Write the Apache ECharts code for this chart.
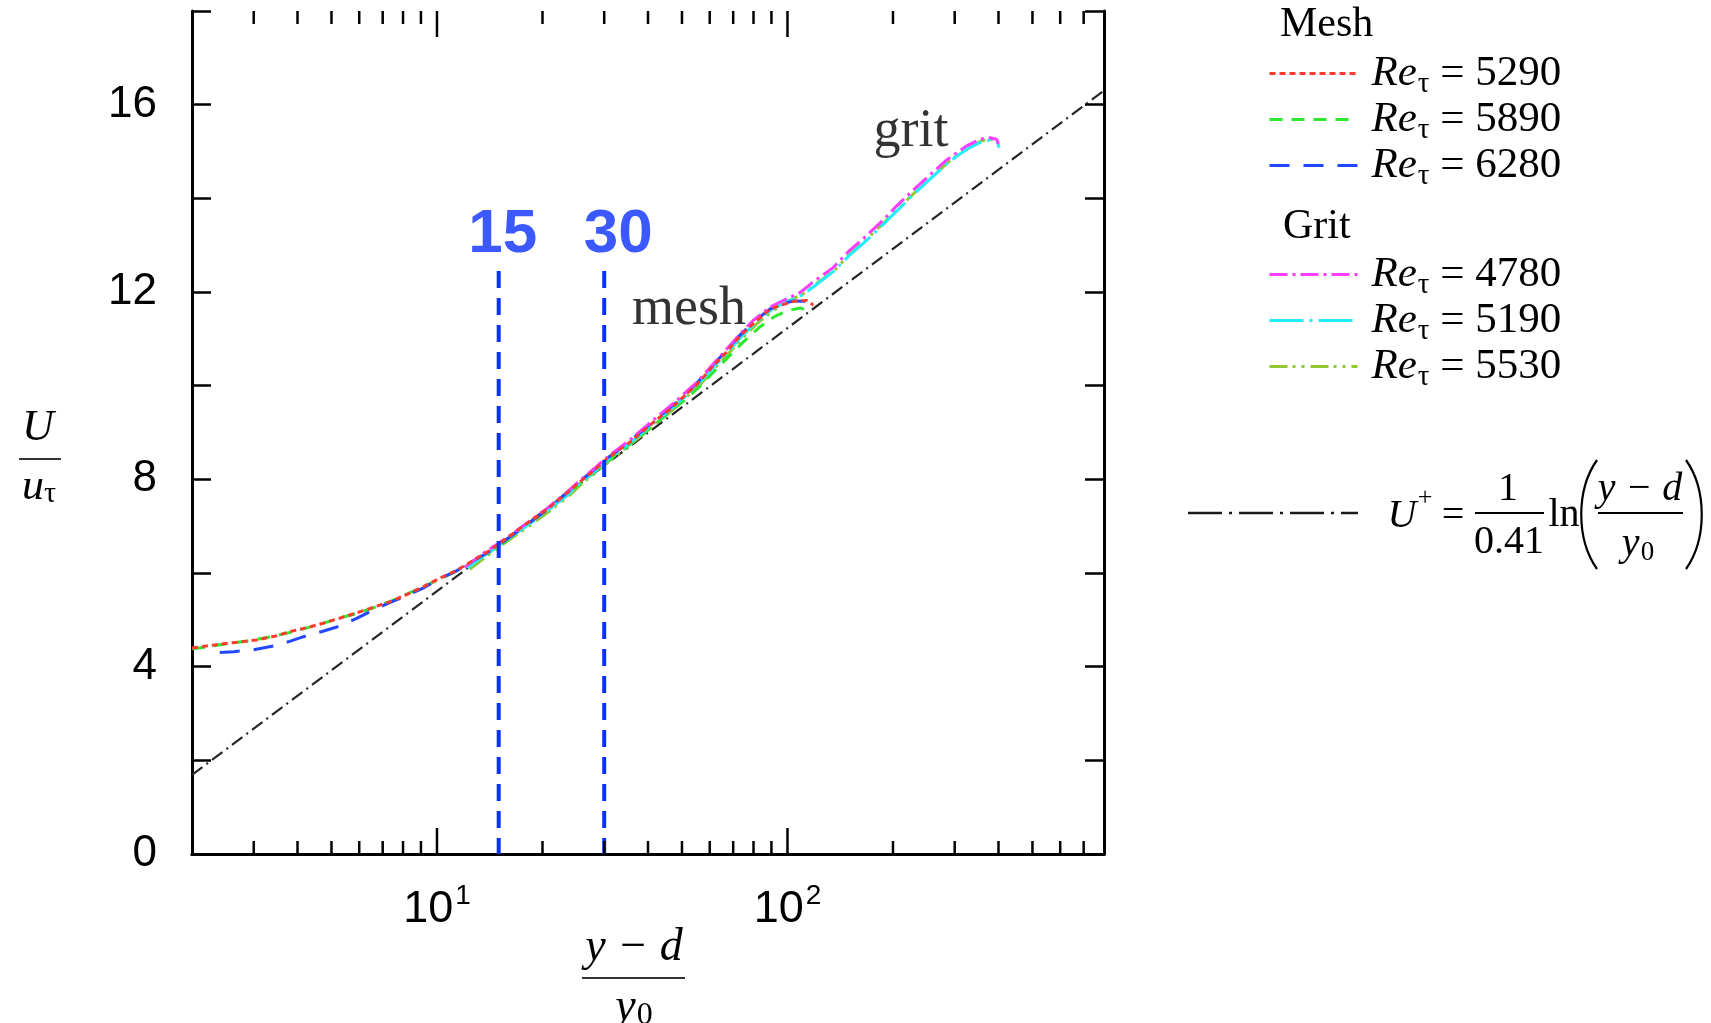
<!DOCTYPE html>
<html>
<head>
<meta charset="utf-8">
<title>Mean velocity profiles, mesh and grit roughness</title>
<script src="https://cdn.jsdelivr.net/npm/echarts@6/dist/echarts.min.js"></script>
<style>
  html, body { margin: 0; padding: 0; background: #ffffff; }
  #chart { width: 1711px; height: 1023px; }
</style>
</head>
<body>
<div id="chart"></div>
<script>
// ---------- axis ranges and ticks ----------
const xRange = [2, 800];
const yRange = [0, 18];
const yTickStep = 2;
const yLabelValues = [0, 4, 8, 12, 16];
const xMajorTicks = [10, 100];
const xMinorTicks = [3, 4, 5, 6, 7, 8, 9, 20, 30, 40, 50, 60, 70, 80, 90, 200, 300, 400, 500, 600, 700];

// ---------- log law  U+ = (1/0.41) ln((y-d)/y0) ----------
const logLawX = [2, 800];
const logLawY = [1.69, 16.30];

// ---------- mesh roughness profiles ----------
const meshRe = [5290, 5890, 6280];

const mesh5290X = [2.0, 2.3, 2.6, 3.06, 3.5, 3.81, 4.3, 4.74, 5.3, 5.9, 6.6, 7.35, 8.2, 9.15, 10.2, 11.4, 12.7, 14.2, 15.8, 18.0, 20.6, 23.0, 25.6, 28.0, 30.2, 33.0, 35.6, 39.0, 42.4, 46.0, 49.4, 55.1, 61.4, 67.0, 73.2, 80.0, 89.2, 96.0, 104, 113.5, 118.6];
const mesh5290Y = [4.40, 4.46, 4.51, 4.57, 4.66, 4.75, 4.84, 4.93, 5.04, 5.15, 5.27, 5.39, 5.54, 5.71, 5.89, 6.06, 6.27, 6.49, 6.74, 7.05, 7.36, 7.65, 7.95, 8.18, 8.41, 8.62, 8.80, 9.05, 9.28, 9.48, 9.70, 10.02, 10.42, 10.72, 11.06, 11.33, 11.63, 11.72, 11.80, 11.82, 11.72];

const mesh5890X = [2.0, 2.2, 2.5, 2.9, 3.3, 3.8, 4.3, 4.8, 5.4, 6.0, 6.7, 7.4, 8.2, 9.1, 10.1, 11.3, 12.6, 14.0, 15.6, 17.6, 20.0, 22.6, 25.3, 28.0, 31.0, 34.5, 38.0, 42.0, 46.5, 51.0, 56.0, 62.0, 68.0, 75.0, 83.0, 92.0, 100, 108.7, 116];
const mesh5890Y = [4.38, 4.42, 4.49, 4.55, 4.63, 4.73, 4.84, 4.94, 5.06, 5.15, 5.28, 5.40, 5.55, 5.70, 5.86, 6.03, 6.22, 6.43, 6.66, 6.96, 7.27, 7.58, 7.88, 8.14, 8.42, 8.67, 8.92, 9.18, 9.46, 9.70, 9.97, 10.32, 10.62, 10.94, 11.24, 11.48, 11.60, 11.66, 11.58];

const mesh6280X = [2.4, 2.63, 3.0, 3.41, 3.8, 4.16, 4.7, 5.29, 5.9, 6.58, 7.3, 8.2, 9.2, 10.2, 11.4, 12.7, 14.2, 15.8, 18.0, 20.6, 23.0, 25.6, 28.0, 30.2, 33.0, 35.6, 39.0, 42.4, 46.0, 49.4, 55.1, 61.4, 67.0, 73.2, 80.0, 89.2, 96.0, 104, 112, 117];
const mesh6280Y = [4.30, 4.32, 4.36, 4.44, 4.54, 4.64, 4.75, 4.87, 5.03, 5.21, 5.36, 5.52, 5.69, 5.88, 6.05, 6.26, 6.47, 6.72, 7.03, 7.35, 7.66, 7.96, 8.20, 8.42, 8.63, 8.83, 9.07, 9.30, 9.52, 9.72, 10.05, 10.45, 10.75, 11.08, 11.36, 11.64, 11.74, 11.81, 11.80, 11.68];

// ---------- grit roughness profiles ----------
const gritRe = [4780, 5190, 5530];

const grit4780X = [12.0, 13.3, 15.8, 18.0, 20.6, 23.0, 25.6, 28.0, 30.2, 33.0, 35.6, 39.0, 42.4, 46.0, 49.4, 55.1, 61.4, 67.0, 73.2, 80.0, 89.2, 100, 108.7, 118.6, 135, 150, 165, 183.6, 205, 228.6, 255, 284.6, 305, 324.5, 354, 375, 395, 400];
const grit4780Y = [6.12, 6.38, 6.75, 7.06, 7.38, 7.67, 7.98, 8.22, 8.44, 8.66, 8.85, 9.10, 9.33, 9.55, 9.75, 10.07, 10.46, 10.78, 11.10, 11.40, 11.68, 11.86, 11.99, 12.22, 12.52, 12.88, 13.15, 13.47, 13.84, 14.18, 14.50, 14.82, 14.98, 15.12, 15.26, 15.30, 15.26, 15.16];

const grit5190X = [12.2, 13.5, 15.9, 18.2, 20.8, 23.3, 25.8, 28.3, 30.5, 33.4, 36.0, 39.5, 42.8, 46.5, 50.0, 55.5, 62.0, 68.0, 74.0, 81.0, 90.0, 100, 110, 120, 136, 151, 167, 185, 207, 230, 257, 286, 307, 327, 356, 377, 397, 402];
const grit5190Y = [6.10, 6.35, 6.72, 7.03, 7.35, 7.63, 7.94, 8.18, 8.40, 8.62, 8.81, 9.06, 9.28, 9.50, 9.71, 10.02, 10.42, 10.74, 11.05, 11.34, 11.62, 11.80, 11.93, 12.14, 12.45, 12.80, 13.08, 13.40, 13.76, 14.10, 14.43, 14.75, 14.92, 15.06, 15.20, 15.24, 15.20, 15.08];

const grit5530X = [12.4, 13.7, 16.0, 18.4, 21.0, 23.5, 26.0, 28.6, 30.8, 33.8, 36.4, 40.0, 43.3, 47.0, 50.5, 56.0, 62.5, 68.5, 75.0, 82.0, 91.0, 101, 111, 121, 137, 152, 168, 186, 208, 232, 259, 288, 309, 329, 358, 379, 398];
const grit5530Y = [6.08, 6.33, 6.70, 7.01, 7.33, 7.61, 7.92, 8.16, 8.38, 8.60, 8.80, 9.05, 9.27, 9.48, 9.70, 10.00, 10.40, 10.72, 11.04, 11.33, 11.60, 11.82, 11.96, 12.18, 12.48, 12.84, 13.12, 13.44, 13.80, 14.14, 14.46, 14.78, 14.95, 15.09, 15.23, 15.27, 15.18];

// ---------- reference positions y+ = 15 and 30 ----------
const markerValues = [15, 30];
const markerTop = 12.45;

// ---------- in-plot annotations ----------
const annotationText = ['mesh', 'grit'];
const annotationX = [35.9, 175.4];
const annotationY = [11.62, 15.42];

// ---------- styling ----------
const SERIF = "'Liberation Serif', 'Times New Roman', serif";
const SANS = "'Liberation Sans', Arial, Helvetica, sans-serif";
const MARK_BLUE = '#0a30ff';

const zip = (xs, ys) => xs.map((x, i) => [x, ys[i]]);
const reName = re => 'Re\u03c4 = ' + re;

function curve(name, xs, ys, color, dash, z) {
  return {
    type: 'line', name: name, data: zip(xs, ys),
    symbol: 'none', silent: true, z: z,
    lineStyle: { color: color, width: 3, type: dash },
    itemStyle: { color: color }
  };
}

const meshStyles = [
  { color: '#ff3b30', dash: [6, 4] },
  { color: '#2ee82e', dash: [13, 9] },
  { color: '#2147ff', dash: [20, 14] }
];
const gritStyles = [
  { color: '#ff3dff', dash: [18, 5, 3, 5] },
  { color: '#22eeff', dash: [34, 6, 3, 6] },
  { color: '#92c832', dash: [18, 5, 3, 6, 3, 6] }
];

const meshData = [[mesh5290X, mesh5290Y], [mesh5890X, mesh5890Y], [mesh6280X, mesh6280Y]];
const gritData = [[grit4780X, grit4780Y], [grit5190X, grit5190Y], [grit5530X, grit5530Y]];

const series = [];

// log-law reference line
series.push({
  type: 'line', name: 'log law', data: zip(logLawX, logLawY),
  symbol: 'none', silent: true, z: 2,
  lineStyle: { color: '#262626', width: 2.2, type: [13, 5, 2, 5] }
});

// profile curves (drawing order keeps red and magenta on top)
const order = [
  ['g', 2], ['m', 1], ['g', 1], ['m', 2], ['g', 0], ['m', 0]
];
order.forEach(([kind, i], k) => {
  if (kind === 'm') {
    series.push(curve(reName(meshRe[i]), meshData[i][0], meshData[i][1], meshStyles[i].color, meshStyles[i].dash, 3 + k));
  } else {
    series.push(curve(reName(gritRe[i]), gritData[i][0], gritData[i][1], gritStyles[i].color, gritStyles[i].dash, 3 + k));
  }
});

// vertical markers at y+ = 15 and 30
markerValues.forEach(v => {
  series.push({
    type: 'line', name: 'marker ' + v, data: [[v, markerTop], [v, yRange[0]]],
    symbol: 'none', silent: true, z: 9,
    lineStyle: { color: MARK_BLUE, width: 4, type: [17, 10] }
  });
});

// numbers above the markers
series.push({
  type: 'scatter', name: 'marker labels', silent: true, z: 12,
  symbolSize: 1, itemStyle: { color: 'rgba(0,0,0,0)' },
  data: markerValues.map((v, i) => ({
    value: [v, markerTop], name: String(v),
    label: { offset: [i === 0 ? 4 : 14, 0] }
  })),
  label: {
    show: true, position: 'top', distance: 5, formatter: '{b}',
    color: MARK_BLUE, fontFamily: SANS, fontWeight: 'bold', fontSize: 62, lineHeight: 62
  }
});

// "mesh" / "grit" annotations
series.push({
  type: 'scatter', name: 'annotations', silent: true, z: 12,
  symbolSize: 1, itemStyle: { color: 'rgba(0,0,0,0)' },
  data: annotationText.map((t, i) => ({ value: [annotationX[i], annotationY[i]], name: t })),
  label: {
    show: true, position: 'right', distance: 0, formatter: '{b}',
    color: '#000', fontFamily: SERIF, fontSize: 54
  }
});

// log-axis ticks (major and minor) on bottom and top edges
const tickData = xMinorTicks.map(v => [v, 0, 0]).concat(xMajorTicks.map(v => [v, 0, 1]));
series.push({
  type: 'custom', name: 'x ticks', coordinateSystem: 'cartesian2d',
  data: tickData, encode: { x: 0, y: 1 }, silent: true, clip: false, z: 20,
  renderItem: function (params, api) {
    const v = api.value(0);
    const len = api.value(2) ? 26 : 13;
    const b = api.coord([v, yRange[0]]);
    const t = api.coord([v, yRange[1]]);
    const st = { stroke: '#000', lineWidth: 2.5 };
    return {
      type: 'group',
      children: [
        { type: 'line', shape: { x1: b[0], y1: b[1], x2: b[0], y2: b[1] - len }, style: st },
        { type: 'line', shape: { x1: t[0], y1: t[1], x2: t[0], y2: t[1] + len }, style: st }
      ]
    };
  }
});

// ---------- legend text (Re subscript tau) ----------
const reRich = {
  re: { fontFamily: SERIF, fontStyle: 'italic', fontSize: 43, lineHeight: 40, color: '#000', padding: [0, 0, 0, 9] },
  tau: { fontFamily: SERIF, fontSize: 29, lineHeight: 40, color: '#000', padding: [22, 0, 0, 1] },
  num: { fontFamily: SERIF, fontSize: 43, lineHeight: 40, color: '#000' }
};
const reFormatter = name => '{re|Re}{tau|\u03c4}{num| = ' + name.replace(/^.*= /, '') + '}';

function legendBlock(names, top) {
  return {
    data: names, orient: 'vertical', left: 1268, top: top, padding: 0,
    itemWidth: 88, itemHeight: 14, itemGap: -5, selectedMode: false,
    formatter: reFormatter,
    itemStyle: { color: 'rgba(0,0,0,0)', borderColor: 'rgba(0,0,0,0)', borderWidth: 0 },
    textStyle: { color: '#000', fontFamily: SERIF, fontSize: 43, rich: reRich },
    lineStyle: { width: 3 }
  };
}

// ---------- axes ----------
const axisLine = { show: true, lineStyle: { color: '#000', width: 3 } };

const xLabelFormatter = v => {
  const e = Math.log10(v);
  const r = Math.round(e);
  if (Math.abs(e - r) > 1e-6 || r < 1 || r > 2) return '';
  return '{b|10}{p|' + r + '}';
};

const option = {
  animation: false,
  backgroundColor: '#ffffff',
  grid: { left: 192, top: 11, width: 912, height: 843, show: false },
  xAxis: [
    {
      type: 'log', logBase: 10, min: xRange[0], max: xRange[1], position: 'bottom',
      axisLine: axisLine, axisTick: { show: false }, splitLine: { show: false },
      axisLabel: {
        show: true, margin: 33, formatter: xLabelFormatter,
        rich: {
          b: { fontFamily: SANS, fontSize: 45, lineHeight: 45, color: '#000' },
          p: { fontFamily: SANS, fontSize: 28, lineHeight: 45, color: '#000', padding: [0, 0, 26, 2] }
        }
      }
    },
    {
      type: 'log', logBase: 10, min: xRange[0], max: xRange[1], position: 'top',
      axisLine: axisLine, axisTick: { show: false }, axisLabel: { show: false }, splitLine: { show: false }
    }
  ],
  yAxis: [
    {
      type: 'value', min: yRange[0], max: yRange[1], interval: yTickStep, position: 'left',
      axisLine: axisLine, splitLine: { show: false },
      axisTick: { show: true, inside: true, length: 19, lineStyle: { color: '#000', width: 2.5 } },
      axisLabel: {
        margin: 35, color: '#000', fontFamily: SANS, fontSize: 44,
        formatter: v => (yLabelValues.indexOf(v) >= 0 ? String(v) : '')
      }
    },
    {
      type: 'value', min: yRange[0], max: yRange[1], interval: yTickStep, position: 'right',
      axisLine: axisLine, splitLine: { show: false }, axisLabel: { show: false },
      axisTick: { show: true, inside: true, length: 19, lineStyle: { color: '#000', width: 2.5 } }
    }
  ],
  legend: [
    legendBlock(meshRe.map(reName), 48),
    legendBlock(gritRe.map(reName), 249)
  ],
  series: series,
  graphic: [
    // legend group titles
    { type: 'text', x: 1280, y: 25, style: { text: 'Mesh', font: '42px ' + SERIF, fill: '#000', align: 'left', verticalAlign: 'middle' } },
    { type: 'text', x: 1283, y: 227, style: { text: 'Grit', font: '42px ' + SERIF, fill: '#000', align: 'left', verticalAlign: 'middle' } },

    // log-law legend sample
    { type: 'line', shape: { x1: 1188, y1: 513, x2: 1358, y2: 513 }, style: { stroke: '#1a1a1a', lineWidth: 2.5, lineDash: [34, 7, 3, 7] } },

    // U+ = (1/0.41) ln((y-d)/y0)
    { type: 'text', x: 1402, y: 516, style: { text: 'U', font: 'italic 40px ' + SERIF, fill: '#000', align: 'center', verticalAlign: 'middle' } },
    { type: 'text', x: 1425, y: 498, style: { text: '+', font: '26px ' + SERIF, fill: '#000', align: 'center', verticalAlign: 'middle' } },
    { type: 'text', x: 1453, y: 516, style: { text: '=', font: '40px ' + SERIF, fill: '#000', align: 'center', verticalAlign: 'middle' } },
    { type: 'text', x: 1508, y: 489, style: { text: '1', font: '40px ' + SERIF, fill: '#000', align: 'center', verticalAlign: 'middle' } },
    { type: 'line', shape: { x1: 1475, y1: 513, x2: 1544, y2: 513 }, style: { stroke: '#000', lineWidth: 2 } },
    { type: 'text', x: 1509, y: 542, style: { text: '0.41', font: '40px ' + SERIF, fill: '#000', align: 'center', verticalAlign: 'middle' } },
    { type: 'text', x: 1564, y: 515, style: { text: 'ln', font: '40px ' + SERIF, fill: '#000', align: 'center', verticalAlign: 'middle' } },
    { type: 'bezierCurve', shape: { x1: 1597, y1: 460, cpx1: 1576, cpy1: 490, cpx2: 1576, cpy2: 539, x2: 1597, y2: 569 }, style: { stroke: '#000', lineWidth: 2.2, fill: null } },
    { type: 'text', x: 1640, y: 489, style: { text: 'y \u2212 d', font: 'italic 40px ' + SERIF, fill: '#000', align: 'center', verticalAlign: 'middle' } },
    { type: 'line', shape: { x1: 1598, y1: 513, x2: 1683, y2: 513 }, style: { stroke: '#000', lineWidth: 2 } },
    {
      type: 'text', x: 1638, y: 544,
      style: {
        text: '{a|y}{b|0}', align: 'center', verticalAlign: 'middle',
        rich: {
          a: { fontFamily: SERIF, fontStyle: 'italic', fontSize: 40, lineHeight: 40, fill: '#000' },
          b: { fontFamily: SERIF, fontSize: 27, lineHeight: 40, fill: '#000', padding: [18, 0, 0, 1] }
        }
      }
    },
    { type: 'bezierCurve', shape: { x1: 1686, y1: 460, cpx1: 1707, cpy1: 490, cpx2: 1707, cpy2: 539, x2: 1686, y2: 569 }, style: { stroke: '#000', lineWidth: 2.2, fill: null } },

    // y-axis title U / u_tau
    { type: 'text', x: 38, y: 428, style: { text: 'U', font: 'italic 44px ' + SERIF, fill: '#000', align: 'center', verticalAlign: 'middle' } },
    { type: 'line', shape: { x1: 19, y1: 459, x2: 61, y2: 459 }, style: { stroke: '#333', lineWidth: 2 } },
    {
      type: 'text', x: 39, y: 487,
      style: {
        text: '{a|u}{b|\u03c4}', align: 'center', verticalAlign: 'middle',
        rich: {
          a: { fontFamily: SERIF, fontStyle: 'italic', fontSize: 44, lineHeight: 44, fill: '#000' },
          b: { fontFamily: SERIF, fontSize: 30, lineHeight: 44, fill: '#000', padding: [14, 0, 0, 0] }
        }
      }
    },

    // x-axis title (y - d) / y0
    { type: 'text', x: 634, y: 948, style: { text: 'y \u2212 d', font: 'italic 46px ' + SERIF, fill: '#000', align: 'center', verticalAlign: 'middle' } },
    { type: 'line', shape: { x1: 582, y1: 978, x2: 685, y2: 978 }, style: { stroke: '#333', lineWidth: 2.2 } },
    {
      type: 'text', x: 634, y: 1008,
      style: {
        text: '{a|y}{b|0}', align: 'center', verticalAlign: 'middle',
        rich: {
          a: { fontFamily: SERIF, fontStyle: 'italic', fontSize: 46, lineHeight: 46, fill: '#000' },
          b: { fontFamily: SERIF, fontSize: 32, lineHeight: 46, fill: '#000', padding: [16, 0, 0, 1] }
        }
      }
    }
  ]
};

const chart = echarts.init(document.getElementById('chart'), null, { renderer: 'canvas' });
chart.setOption(option);
</script>
</body>
</html>
